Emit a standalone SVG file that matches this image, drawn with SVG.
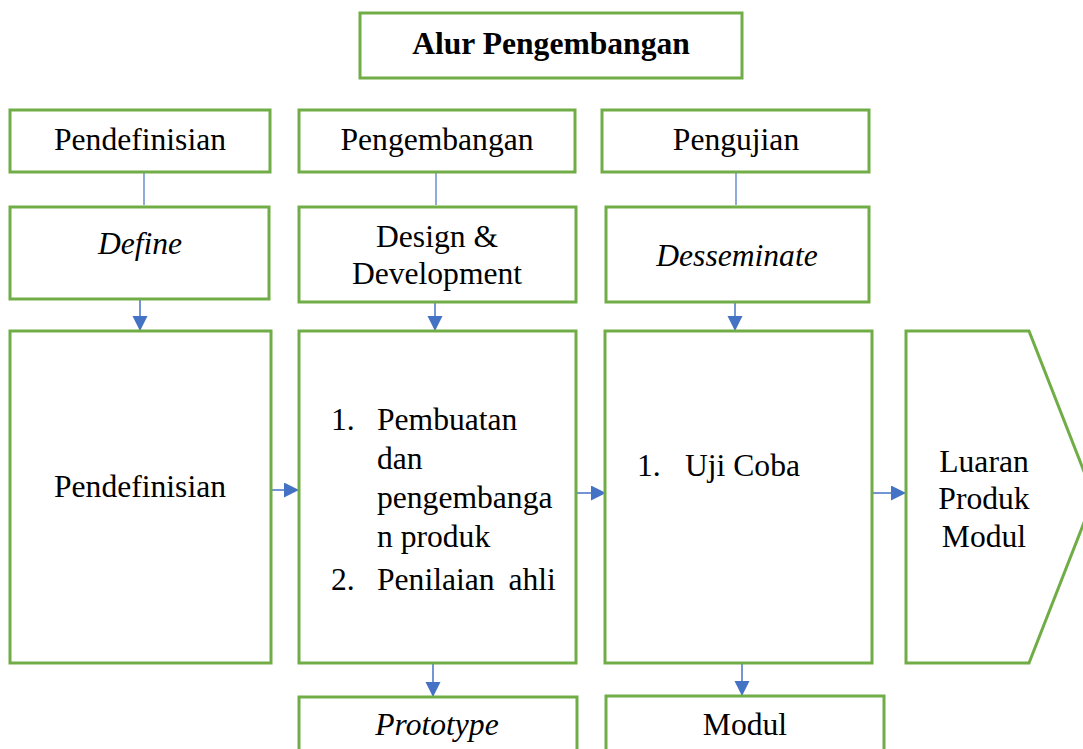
<svg xmlns="http://www.w3.org/2000/svg" width="1083" height="749" viewBox="0 0 1083 749">
<style>
.box{fill:#fff;stroke:#70AD47;stroke-width:3}
.t{font-family:"Liberation Serif","Times New Roman",serif;font-size:31.6px;fill:#000}
.c{text-anchor:middle}
.i{font-style:italic}
.b{font-weight:bold}
.ln{stroke:#4472C4;stroke-width:1.2;fill:none}
.ar{stroke:#4472C4;stroke-width:1.5;fill:none;marker-end:url(#ah)}
</style>
<defs>
<marker id="ah" markerUnits="userSpaceOnUse" markerWidth="16" markerHeight="16" refX="15" refY="7.5" orient="auto">
<path d="M0,0 L15,7.5 L0,15 Z" fill="#4472C4"/>
</marker>
</defs>
<rect width="1083" height="749" fill="#fff"/>
<g id="connectors">
<line class="ln" x1="144" y1="172" x2="144" y2="205"/>
<line class="ln" x1="436" y1="172" x2="436" y2="205"/>
<line class="ln" x1="736" y1="172" x2="736" y2="205"/>
<line class="ar" x1="140" y1="299" x2="140" y2="331"/>
<line class="ar" x1="435" y1="302" x2="435" y2="331"/>
<line class="ar" x1="735" y1="302" x2="735" y2="331"/>
<line class="ar" x1="272" y1="490" x2="299" y2="490"/>
<line class="ar" x1="576" y1="493" x2="606" y2="493"/>
<line class="ar" x1="872" y1="493" x2="906" y2="493"/>
<line class="ar" x1="433" y1="664" x2="433" y2="697"/>
<line class="ar" x1="742" y1="664" x2="742" y2="696"/>
</g>
<g id="title">
<rect class="box" x="360" y="13" width="382" height="65"/>
<text class="t c b" x="551" y="54">Alur Pengembangan</text>
</g>
<g id="h-pendefinisian">
<rect class="box" x="10" y="110" width="260" height="62"/>
<text class="t c" x="140" y="150">Pendefinisian</text>
</g>
<g id="h-pengembangan">
<rect class="box" x="299" y="110" width="276" height="62"/>
<text class="t c" x="437" y="150">Pengembangan</text>
</g>
<g id="h-pengujian">
<rect class="box" x="602" y="110" width="267" height="62"/>
<text class="t c" x="736" y="150">Pengujian</text>
</g>
<g id="define">
<rect class="box" x="10" y="207" width="259" height="92"/>
<text class="t c i" x="140" y="254">Define</text>
</g>
<g id="design">
<rect class="box" x="299" y="207" width="277" height="95"/>
<text class="t c" x="437" y="247">Design &amp;</text>
<text class="t c" x="437" y="284">Development</text>
</g>
<g id="desseminate">
<rect class="box" x="606" y="207" width="263" height="95"/>
<text class="t c i" x="737" y="266">Desseminate</text>
</g>
<g id="pendefinisian">
<rect class="box" x="10" y="331" width="261" height="332"/>
<text class="t c" x="140" y="497">Pendefinisian</text>
</g>
<g id="pengembangan-list">
<rect class="box" x="299" y="331" width="277" height="332"/>
<text class="t" x="331" y="430">1.</text>
<text class="t" x="377" y="430">Pembuatan</text>
<text class="t" x="377" y="469">dan</text>
<text class="t" x="377" y="508">pengembanga</text>
<text class="t" x="377" y="547">n produk</text>
<text class="t" x="331" y="590">2.</text>
<text class="t" x="377" y="590" word-spacing="6">Penilaian ahli</text>
</g>
<g id="ujicoba">
<rect class="box" x="605" y="331" width="267" height="332"/>
<text class="t" x="637" y="476">1.</text>
<text class="t" x="685" y="476">Uji Coba</text>
</g>
<g id="luaran">
<polygon class="box" points="906,331 1029,331 1094,497 1029,663 906,663"/>
<text class="t c" x="984" y="472">Luaran</text>
<text class="t c" x="984" y="509">Produk</text>
<text class="t c" x="984" y="547">Modul</text>
</g>
<g id="prototype">
<rect class="box" x="299" y="697" width="278" height="70"/>
<text class="t c i" x="437" y="735">Prototype</text>
</g>
<g id="modul">
<rect class="box" x="606" y="696" width="278" height="70"/>
<text class="t c" x="745" y="735">Modul</text>
</g>
</svg>
